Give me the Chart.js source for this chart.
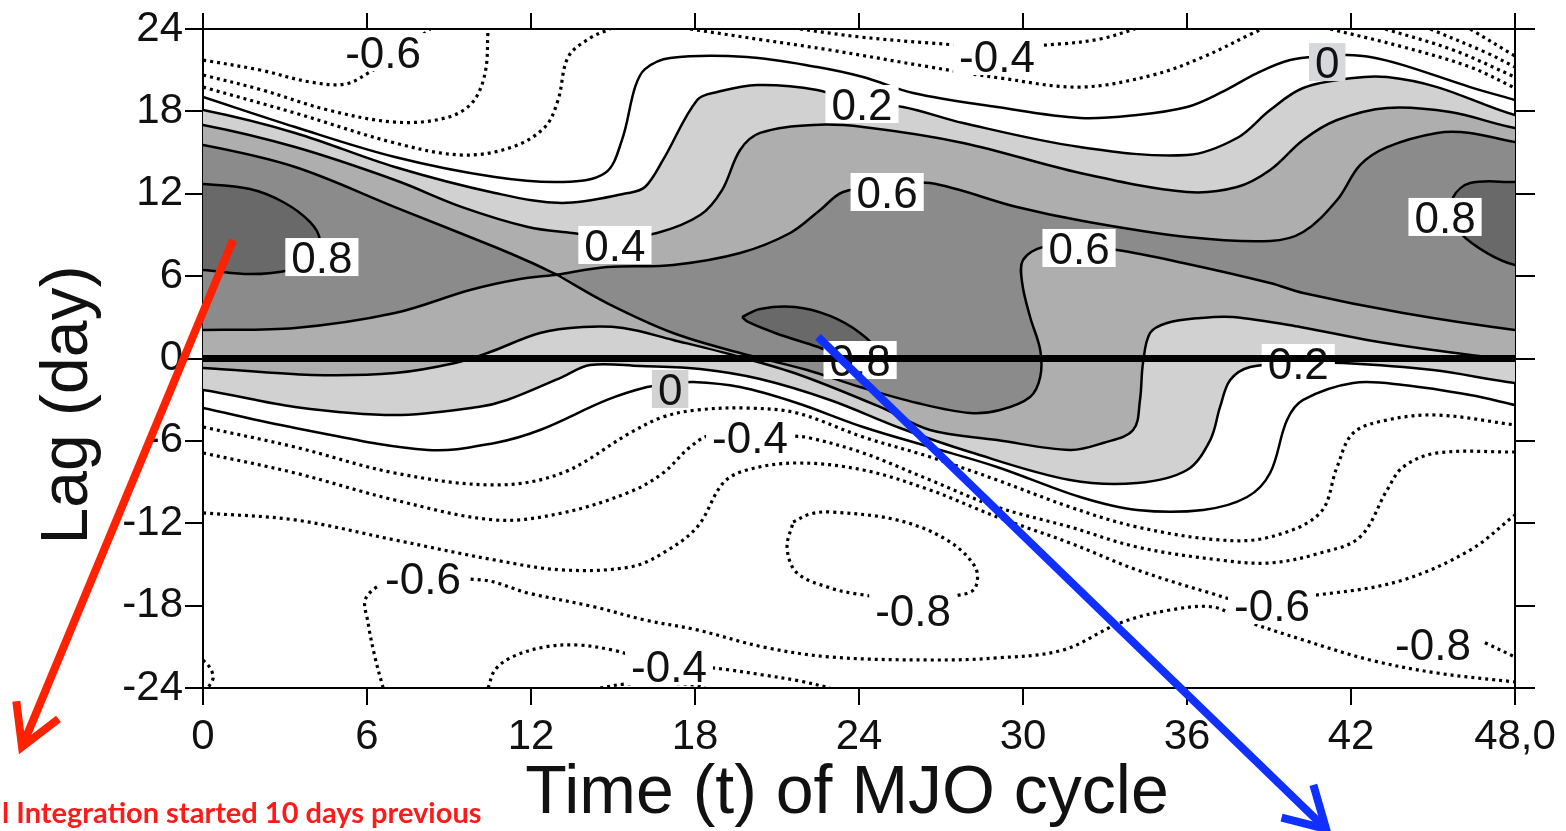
<!DOCTYPE html>
<html>
<head>
<meta charset="utf-8">
<script src="https://cdn.jsdelivr.net/npm/chart.js@4.4.1/dist/chart.umd.min.js"></script>
<style>
  html, body { margin: 0; padding: 0; background: #fff; }
  canvas { display: block; }
</style>
</head>
<body>
<canvas id="lagChart" width="1566" height="831"></canvas>
<script>
/**
 * Lag correlation vs. time of MJO cycle, drawn as a shaded contour plot.
 * Every contour below is a polyline, in data units
 * (x = time of MJO cycle, y = lag in days).
 */

// ---- axes ---------------------------------------------------------------
const X_TICKS = [0, 6, 12, 18, 24, 30, 36, 42, 48];
const X_TICK_LABELS = ["0", "6", "12", "18", "24", "30", "36", "42", "48,0"];
const Y_TICKS = [-24, -18, -12, -6, 0, 6, 12, 18, 24];
const Y_TICK_LABELS = ["-24", "-18", "-12", "-6", "0", "6", "12", "18", "24"];
const X_TITLE = "Time (t) of MJO cycle";
const Y_TITLE = "Lag (day)";
const NOTE_TEXT = "l Integration started 10 days previous";

// ---- solid contours (>= 0) -----------------------------------------------
const LEVEL_0_UPPER = [[0,19.05],[3.37,16.86],[7.02,14.68],[10.68,13.22],[13.14,12.86],[14.71,13.51],[15.33,15.92],[15.81,19.78],[16.17,21.08],[17.09,21.89],[19.9,21.96],[22.47,21.23],[24.15,20.5],[25.98,19.34],[29.05,18.32],[32.09,17.52],[34.17,17.74],[36,18.32],[37.21,19.34],[38.57,20.79],[39.77,21.74],[41.13,22.03],[41.86,22.1],[42.7,21.96],[43.91,21.37],[46.36,19.77],[48,18.83]];
const LEVEL_0_LOWER = [[0,-3.61],[3.37,-5.06],[8.23,-6.66],[10.68,-6.15],[12.33,-5.21],[14.78,-3.02],[16.25,-2.08],[17.09,-1.86],[17.93,-1.71],[19.65,-2.08],[21.73,-3.24],[24.15,-4.99],[26.6,-6.45],[29.05,-7.9],[32.09,-10.09],[34.17,-11.03],[36.59,-11.03],[38.2,-10.09],[39.04,-8.34],[39.66,-4.48],[40.25,-3.02],[42.08,-1.78],[43.91,-1.93],[46.36,-2.66],[48,-3.39]];

const LEVEL_02_UPPER = [[0,18.1],[3.37,16.43],[7.02,13.95],[10.68,12.06],[13.14,11.33],[15.55,12.05],[16.17,12.49],[16.83,14.46],[18.08,18.83],[18.81,19.41],[20.27,19.92],[22.47,19.56],[24.11,18.54],[25.61,18.32],[27.81,17.15],[32.09,15.4],[36,14.82],[37.83,16.06],[39.04,18.1],[40.25,19.7],[42.08,20.43],[43.32,20.5],[45.15,19.77],[48,17.73]];
const LEVEL_02_LOWER = [[0,-2.29],[3.37,-3.53],[7.02,-4.12],[10.06,-3.53],[11.12,-3.02],[13.14,-1.35],[14.16,-0.47],[15.99,-0.55],[18.19,-0.76],[20.38,-1.49],[22.94,-3.02],[25.5,-5.06],[28.06,-6.81],[31.72,-8.85],[34.17,-9.07],[36,-8.12],[36.85,-5.94],[37.21,-3.53],[37.58,-1.57],[38.31,-0.62],[40.07,-0.33],[41.71,-0.33],[45,-0.84],[48,-1.78]];

const LEVEL_04_UPPER = [[0,17.01],[3.37,15.4],[7.02,13],[9.48,11.03],[11.89,9.58],[13.5,9.14],[15.07,8.78],[16.61,9.14],[18.19,10.45],[18.99,12.27],[19.65,15.19],[20.38,16.43],[22.32,17.01],[24.15,16.86],[27.81,15.7],[32.09,13.51],[36,12.13],[37.83,12.49],[39.04,13.73],[40.25,15.92],[41.49,17.37],[43.32,18.25],[45.63,17.95],[48,16.79]];
const LEVEL_04_LOWER = [[0,-0.69],[3.99,-1.2],[7.02,-1.06],[9.22,-0.33],[10.5,0.47],[12.33,1.86],[13.9,2.29],[15.37,2.22],[17.2,1.35],[19.65,0.11],[21.84,-1.2],[24.77,-3.53],[26.6,-5.21],[29.05,-5.94],[31.72,-6.66],[32.93,-6.15],[34.03,-5.21],[34.28,-3.02],[34.39,-0.33],[34.65,1.86],[35.27,2.59],[36.48,2.95],[37.69,3.02],[40.14,2.29],[42.59,1.35],[45,0.62],[48,-0.11]];

// 0.6 contours meet in a saddle near t = 13, lag = 6
const LEVEL_06_UPPER_LEFT = [[0,15.55],[3.37,13.95],[7.02,11.03],[10.68,8.12],[11.96,7.03],[12.95,6.1]];
const LEVEL_06_LOWER_LEFT = [[0,2.08],[3.37,2.22],[7.02,3.31],[9.77,4.99],[11.6,5.79],[12.95,6.1]];
const LEVEL_06_UPPER_RIGHT = [[12.95,6.1],[14.78,6.66],[17.2,6.81],[19.65,7.68],[21.48,9.14],[22.58,10.82],[23.42,12.13],[25.03,12.56],[26.6,12.78],[29.78,11.03],[32.2,10.01],[36,8.85],[39.04,8.56],[40.25,9.21],[41.49,11.54],[42.33,14.09],[43.32,15.4],[45.15,16.43],[46.36,16.43],[48,15.77]];
const LEVEL_06_LOWER_RIGHT = [[12.95,6.1],[14.78,4.04],[17.2,1.86],[19.65,0.4],[22.1,-0.84],[24.04,-2.08],[26.13,-3.24],[28.06,-3.97],[29.16,-3.75],[30.26,-2.8],[30.63,-1.35],[30.63,0.62],[30.26,3.02],[29.97,5.5],[30,7.17],[30.74,8.12],[32.09,8.05],[33.44,7.9],[35.86,6.96],[39.04,5.5],[40.25,4.77],[43.91,3.31],[48,2.08]];

const LEVEL_08_LEFT = [[0,12.71],[1.72,12.35],[2.93,11.4],[3.92,9.94],[4.28,8.63],[4.1,7.32],[3.18,6.45],[1.72,6.15],[0,6.45]];
const LEVEL_08_MID = [[19.72,3.02],[20.38,3.61],[21.66,3.75],[22.94,3.1],[24.04,1.86],[24.7,0.47],[24.48,-0.25],[23.68,0.04],[22.39,0.91],[20.93,1.86],[19.94,2.66],[19.72,3.02]];
const LEVEL_08_RIGHT = [[48,12.85],[46.36,12.78],[45.74,11.76],[45.7,10.31],[46,9.14],[46.98,7.68],[48,6.81]];

// ---- dotted contours (< 0) -----------------------------------------------
const NEG_02_TOP_LEFT = [[0,19.77],[3.37,17.88],[7.02,15.7],[9.48,14.82],[11.31,15.4],[12.51,16.86],[12.99,18.83],[13.36,21.96],[14.16,23.34],[14.89,24]];
const NEG_04_TOP_LEFT = [[0,20.65],[2.16,19.56],[4.57,18.1],[7.02,17.22],[8.85,17.51],[9.84,18.61],[10.32,20.79],[10.43,24]];
const NEG_06_TOP_LEFT = [[0,21.74],[2.09,21.01],[3.92,20.14],[5.2,19.99],[6.11,20.87],[7.21,22.32],[8.31,24]];
const NEG_02_TOP_MID = [[17.82,24],[20.49,23.2],[22.94,22.47],[26.6,21.23],[29.16,20.43],[32.09,19.77],[34.76,20.65],[36.59,21.96],[38.42,23.71],[38.75,24]];
const NEG_04_TOP_MID = [[21.84,24],[24.04,23.42],[26.6,22.98],[29.05,22.69],[31.36,22.91],[32.82,23.27],[34.1,24]];
const NEG_02_TOP_RIGHT = [[41.24,24],[43.91,22.69],[46.36,21.23],[48,19.7]];
const NEG_04_TOP_RIGHT = [[43.25,24],[45.74,22.47],[48,20.5]];
const NEG_06_TOP_RIGHT = [[44.9,24],[46.98,22.25],[48,21.23]];
const NEG_08_TOP_RIGHT = [[46.36,24],[48,22.03]];

const NEG_02_LOW = [[0,-4.99],[3.37,-6.45],[7.02,-8.34],[10.68,-9.21],[13.14,-8.34],[15.62,-5.43],[16.83,-4.26],[18.08,-3.75],[19.9,-3.61],[21.73,-3.97],[24.15,-5.72],[26.6,-7.17],[29.05,-8.85],[31.72,-10.82],[34.17,-12.27],[37.21,-13.22],[39.04,-13],[40.87,-11.25],[41.49,-7.9],[42.08,-5.43],[43.32,-4.48],[45.15,-4.12],[48,-4.84]];
const NEG_04_LOW = [[0,-6.88],[3.37,-8.34],[7.02,-10.31],[10.68,-11.76],[13.14,-11.25],[15.62,-9.72],[16.83,-8.34],[17.82,-6.45],[18.62,-5.57],[21.48,-5.64],[22.21,-5.79],[24.15,-6.88],[26.6,-8.85],[29.05,-10.82],[31.72,-12.27],[34.17,-13.73],[37.21,-14.68],[39.04,-14.89],[40.87,-14.17],[42.33,-13],[43.32,-9.58],[43.91,-7.9],[45.15,-6.88],[48,-6.81]];
const NEG_06_LOW = [[0,-11.25],[3.37,-11.76],[7.02,-13.22],[10.68,-14.68],[13.14,-15.4],[15.62,-15.19],[16.83,-14.17],[18.08,-12.27],[19.03,-9.07],[19.9,-8.12],[21.73,-7.61],[24.15,-8.12],[26.6,-9.58],[29.05,-11.54],[31.72,-13.44],[34.17,-15.4],[36.85,-17.08],[37.94,-17.59],[41.35,-17.08],[43.91,-16.13],[46.36,-13.95],[48,-11.4]];
const NEG_08_LOOP = [[21.59,-11.91],[22.21,-11.33],[22.94,-11.18],[25.39,-11.76],[27.22,-13.22],[28.25,-15.19],[28.25,-16.71],[27.7,-17.22],[25.87,-17.59],[23.93,-17.15],[22.94,-16.71],[21.73,-15.62],[21.37,-13.8],[21.59,-11.91]];
const NEG_06_BOTTOM = [[6.59,-24],[6.29,-21.74],[6.04,-19.26],[5.96,-17.44],[6.84,-16.28],[10.21,-16.13],[11.89,-17.08],[14.34,-18.1],[16.17,-19.05],[18.08,-19.77],[20.49,-21.01],[22.94,-21.74],[26.6,-21.96],[29.05,-21.81],[31.47,-21.23],[33.55,-19.26],[35.38,-18.32],[36.96,-18.1],[38.05,-19.05],[40.25,-20.5],[42.7,-21.96],[45.15,-22.91],[48,-23.56]];
const NEG_04_BOTTOM = [[10.43,-24],[10.68,-22.69],[11.31,-21.74],[12.51,-21.01],[13.72,-20.87],[14.97,-21.23],[16.36,-21.96],[19.28,-22.69],[20.49,-23.05],[21.84,-23.49],[22.94,-24]];
const NEG_02_BOTTOM = [[14.53,-24],[15.44,-23.71],[16.72,-23.64],[18,-23.78],[18.37,-24]];
const NEG_08_BOTTOM_RIGHT = [[46.9,-20.7],[48,-21.74]];
const NEG_CORNER = [[0,-21.96],[0.26,-22.54],[0.37,-23.27],[0.18,-24]];

const ZERO_LAG = [[0,0],[48,0]];

// ---- inline contour labels -------------------------------------------------
const LABEL_TEXT = ["-0.6","-0.4","0","0.2","0.6","0.8","0.8","0.4","0.6","0.8","0.2","0","-0.4","-0.6","-0.8","-0.6","-0.8","-0.4"];
const LABEL_X = [6.59,29.05,41.13,24.11,25.03,45.44,4.35,15.07,32.05,24.04,40.07,17.09,20.01,8.05,25.98,39.11,45.0,17.05];
const LABEL_Y = [22.32,22.03,21.59,18.54,12.13,10.31,7.39,8.27,8.05,-0.11,-0.33,-2.22,-5.72,-15.99,-18.32,-17.95,-20.79,-22.4];
const LABEL_BOX = ["#fff","#fff","#d6d8db","#fff","#fff","#fff","#fff","#fff","#fff","#fff","#fff","#d2d2d2","#fff","#fff","#fff","#fff","#fff","#fff"];

// ---- hand-drawn arrows over the figure (start, tip) ------------------------
const RED_ARROW = [[1.1,8.63],[-6.62,-28.29]];
const BLUE_ARROW = [[22.5,1.57],[41.09,-34.27]];

// ---- style --------------------------------------------------------------------
const SANS = '"Liberation Sans", Arial, Helvetica, sans-serif';
const SHADE_02 = "#d1d1d1";
const SHADE_04 = "#aeaeae";
const SHADE_06 = "#8b8b8b";
const SHADE_08 = "#696969";

/** push a contour end that sits on the frame a little outside it */
function edgePad([x, y]) {
  if (x <= 0) return [[-0.8, y], [-1.6, y]];
  if (x >= 48) return [[48.8, y], [49.6, y]];
  if (y >= 24) return [[x, 24.8], [x, 25.6]];
  if (y <= -24) return [[x, -24.8], [x, -25.6]];
  return [];
}

function padEdges(pairs) {
  return [...edgePad(pairs[0]).reverse(), ...pairs, ...edgePad(pairs[pairs.length - 1])];
}

/** closed region between an upper and a lower contour, both running left to right */
function band(upper, lower) {
  return [...padEdges(upper), ...padEdges(lower).reverse()];
}

function contour(pairs, extra) {
  return Object.assign({
    data: pairs.map(([x, y]) => ({ x, y })),
    showLine: true,
    pointRadius: 0,
    pointHoverRadius: 0,
    borderColor: "#000",
    borderWidth: 2.5,
    tension: 0.35,
    fill: false,
    order: 5,
  }, extra);
}

const dotted = { borderDash: [3, 4], borderWidth: 3.2 };

const datasets = [
  contour(band(LEVEL_02_UPPER, LEVEL_02_LOWER), { shade: SHADE_02, order: 9 }),
  contour(band(LEVEL_04_UPPER, LEVEL_04_LOWER), { shade: SHADE_04, order: 8 }),
  contour(band(LEVEL_06_UPPER_LEFT, LEVEL_06_LOWER_LEFT), { shade: SHADE_06, order: 7 }),
  contour(band(LEVEL_06_UPPER_RIGHT, LEVEL_06_LOWER_RIGHT), { shade: SHADE_06, order: 7 }),
  contour(padEdges(LEVEL_08_LEFT), { shade: SHADE_08, order: 6 }),
  contour(LEVEL_08_MID, { shade: SHADE_08, order: 6 }),
  contour(padEdges(LEVEL_08_RIGHT), { shade: SHADE_08, order: 6 }),
  contour(LEVEL_0_UPPER),
  contour(LEVEL_0_LOWER),
  ...[
    NEG_02_TOP_LEFT, NEG_04_TOP_LEFT, NEG_06_TOP_LEFT, NEG_02_TOP_MID, NEG_04_TOP_MID,
    NEG_02_TOP_RIGHT, NEG_04_TOP_RIGHT, NEG_06_TOP_RIGHT, NEG_08_TOP_RIGHT,
    NEG_02_LOW, NEG_04_LOW, NEG_06_LOW, NEG_08_LOOP, NEG_06_BOTTOM, NEG_04_BOTTOM,
    NEG_02_BOTTOM, NEG_08_BOTTOM_RIGHT, NEG_CORNER,
  ].map((line) => contour(line, dotted)),
  contour(ZERO_LAG, { label: "lag0", borderWidth: 7, tension: 0, order: 0 }),
];

// fill each shaded region right before its outline is stroked
const shadePlugin = {
  id: "shadePlugin",
  beforeDatasetDraw(chart, args) {
    const ds = chart.data.datasets[args.index];
    if (!ds.shade) return;
    const { ctx, chartArea: a } = chart;
    ctx.save();
    ctx.beginPath();
    ctx.rect(a.left, a.top, a.right - a.left, a.bottom - a.top);
    ctx.clip();
    ctx.beginPath();
    args.meta.dataset.path(ctx);
    ctx.closePath();
    ctx.fillStyle = ds.shade;
    ctx.fill();
    ctx.restore();
  },
};

// contour values in boxes; the thick zero-lag line goes over them
const labelPlugin = {
  id: "labelPlugin",
  beforeDatasetDraw(chart, args) {
    if (chart.data.datasets[args.index].label !== "lag0") return;
    const { ctx, scales: { x, y } } = chart;
    ctx.save();
    ctx.font = `44px ${SANS}`;
    ctx.textAlign = "center";
    ctx.textBaseline = "alphabetic";
    LABEL_TEXT.forEach((text, i) => {
      const px = x.getPixelForValue(LABEL_X[i]);
      const py = y.getPixelForValue(LABEL_Y[i]);
      const w = ctx.measureText(text).width + 12;
      ctx.fillStyle = LABEL_BOX[i];
      ctx.fillRect(px - w / 2, py - 19, w, 38);
      ctx.fillStyle = "#111";
      ctx.fillText(text, px, py + 16);
    });
    ctx.restore();
  },
};

function drawArrow(ctx, x, y, arrow, color) {
  const x0 = x.getPixelForValue(arrow[0][0]);
  const y0 = y.getPixelForValue(arrow[0][1]);
  const x1 = x.getPixelForValue(arrow[1][0]);
  const y1 = y.getPixelForValue(arrow[1][1]);
  const back = Math.atan2(y0 - y1, x0 - x1);
  ctx.strokeStyle = color;
  ctx.lineWidth = 8;
  ctx.lineJoin = "miter";
  ctx.beginPath();
  ctx.moveTo(x0, y0);
  ctx.lineTo(x1, y1);
  ctx.stroke();
  ctx.beginPath();
  ctx.moveTo(x1 + 46 * Math.cos(back - 0.52), y1 + 46 * Math.sin(back - 0.52));
  ctx.lineTo(x1, y1);
  ctx.lineTo(x1 + 46 * Math.cos(back + 0.52), y1 + 46 * Math.sin(back + 0.52));
  ctx.stroke();
}

// axis titles, the red note and the two arrows
const annotationPlugin = {
  id: "annotationPlugin",
  afterDraw(chart) {
    const { ctx, chartArea: a, scales: { x, y } } = chart;
    ctx.save();
    ctx.fillStyle = "#111";
    ctx.textAlign = "center";
    ctx.textBaseline = "alphabetic";
    ctx.font = `68px ${SANS}`;
    ctx.fillText(X_TITLE, 847, a.bottom + 125);
    ctx.save();
    ctx.translate(a.left - 116, 405);
    ctx.rotate(-Math.PI / 2);
    ctx.font = `66px ${SANS}`;
    ctx.fillText(Y_TITLE, 0, 0);
    ctx.restore();

    ctx.textAlign = "left";
    ctx.fillStyle = "#ff1a1a";
    ctx.font = 'bold 29px Lato, "Open Sans", sans-serif';
    ctx.fillText(NOTE_TEXT, 2, 823, 493);

    drawArrow(ctx, x, y, RED_ARROW, "#ff2200");
    drawArrow(ctx, x, y, BLUE_ARROW, "#1030ff");
    ctx.restore();
  },
};

const tickFont = { family: SANS, size: 42 };
const frame = { color: "#000", width: 2 };

function frameAxis(axis, position, tickLength, size, labels) {
  const ticks = axis === "x" ? X_TICKS : Y_TICKS;
  return {
    type: "linear",
    axis,
    position,
    min: axis === "x" ? 0 : -24,
    max: axis === "x" ? 48 : 24,
    afterBuildTicks: (s) => { s.ticks = ticks.map((v) => ({ value: v })); },
    ticks: labels
      ? {
          font: tickFont,
          color: "#111",
          padding: axis === "x" ? 7 : 2,
          maxRotation: 0,
          autoSkip: false,
          callback: (v) => labels[ticks.indexOf(v)],
        }
      : { display: false },
    grid: { drawOnChartArea: false, tickLength, color: "#000", lineWidth: 2 },
    border: frame,
    afterFit: (s) => {
      if (axis === "x") s.height = size;
      else s.width = size;
    },
  };
}

new Chart(document.getElementById("lagChart"), {
  type: "scatter",
  data: { datasets },
  options: {
    responsive: false,
    animation: false,
    devicePixelRatio: 1,
    layout: { padding: 0 },
    elements: { line: { capBezierPoints: false } },
    plugins: { legend: { display: false }, tooltip: { enabled: false } },
    scales: {
      x: frameAxis("x", "bottom", 17, 143, X_TICK_LABELS),
      xTop: frameAxis("x", "top", 16, 29, null),
      y: frameAxis("y", "left", 18, 203, Y_TICK_LABELS),
      yRight: frameAxis("y", "right", 20, 51, null),
    },
  },
  plugins: [shadePlugin, labelPlugin, annotationPlugin],
});
</script>
</body>
</html>
